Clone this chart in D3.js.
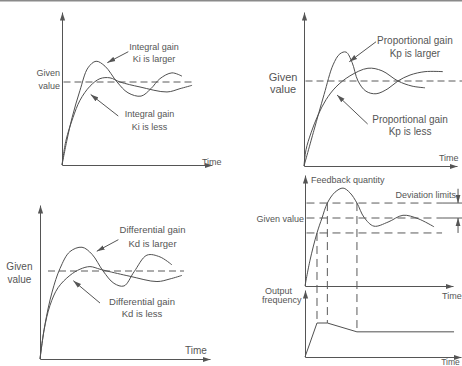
<!DOCTYPE html>
<html><head><meta charset="utf-8">
<script src="https://cdn.jsdelivr.net/npm/d3@7"></script>
<style>
html,body{margin:0;padding:0;background:#fff;}
text{font-family:"Liberation Sans",Arial,Helvetica,sans-serif;fill:#555;}
</style>
</head><body>
<svg id="c" width="462" height="366"></svg>
<script>
// ---------------- DATA (time in units 0..10, value relative to given value = 1) -------------
const givenValue = 1;
// Panel 1: integral gain
const kiLarger = [[0,0],[0.33,0.30],[0.67,0.57],[1.2,0.90],[1.73,1.17],[2.27,1.25],[2.87,1.19],[3.67,1.0],[4.4,0.87],[5.27,0.83],[5.93,0.92],[6.53,1.04],[7.33,1.11],[8.0,1.07]];
const kiLess   = [[0,0],[0.27,0.30],[0.73,0.57],[1.2,0.78],[1.87,0.95],[2.53,1.04],[3.2,1.05],[3.87,1.0],[5.2,0.94],[7.0,0.88],[7.87,0.92],[8.67,0.96]];
// Panel 2: proportional gain
const kpLarger = [[0,0],[0.65,0.42],[1.31,0.84],[1.90,1.19],[2.35,1.32],[2.75,1.34],[3.14,1.22],[3.53,1.0],[4.05,0.88],[4.71,0.85],[5.49,0.91],[6.14,1.0],[6.93,1.07],[7.91,1.11],[9.08,1.11]];
const kpLess   = [[0,0],[0.13,0.19],[0.46,0.39],[0.92,0.60],[1.44,0.78],[2.09,0.93],[3.0,1.06],[4.18,1.15],[5.1,1.12],[6.14,1.0],[7.06,0.94],[7.91,0.92]];
// Panel 3: differential gain
const kdLarger = [[0,0],[0.29,0.39],[0.71,0.76],[1.18,1.03],[1.76,1.22],[2.47,1.27],[3.06,1.19],[3.71,1.0],[4.35,0.86],[4.94,0.83],[5.53,0.99],[6.29,1.18],[7.06,1.16],[7.76,1.07]];
const kdLess   = [[0,0],[0.24,0.33],[0.59,0.61],[1.06,0.81],[1.76,0.95],[2.35,1.02],[2.94,1.05],[3.53,1.02],[3.94,1.0],[5.29,0.94],[6.88,0.88],[7.65,0.91],[8.35,0.95]];
// Panel 4: deviation limits / output frequency
const upperLimit = 1.22, lowerLimit = 0.78;
const eventTimes = [0.81, 1.51, 3.51];   // curve leaves lower limit, reaches upper limit, re-enters upper limit
const feedback = [[0,0],[0.34,0.38],[0.81,0.78],[1.15,1.0],[1.51,1.22],[2.03,1.38],[2.57,1.44],[3.04,1.37],[3.51,1.22],[3.99,1.01],[4.66,0.88],[5.61,0.94],[6.62,1.04],[7.64,0.99],[8.72,0.87]];
const outputFreq = [[0,0],[0.81,1],[1.51,1],[3.51,0.74],[10.07,0.74]];
const outputAtEvents = [1, 1, 0.74];
const feedbackAtEvents = [lowerLimit, upperLimit, upperLimit];

// text labels
const givenLines = ["Given","value"];
const kiLargerText = ["Integral gain","Ki is larger"];
const kiLessText = ["Integral gain","Ki is less"];
const kpLargerText = ["Proportional gain","Kp is larger"];
const kpLessText = ["Proportional gain","Kp is less"];
const kdLargerText = ["Differential gain","Kd is larger"];
const kdLessText = ["Differential gain","Kd is less"];
const timeText = "Time";

// ---------------- DRAWING ----------------
const LINE = "#505050", AXIS = "#555", DASH = "#5a5a5a";
const svg = d3.select("#c");
svg.append("rect").attr("x",0).attr("y",0).attr("width",462).attr("height",1.5).attr("fill","#8a8a8a");

const defs = svg.append("defs");
defs.append("marker").attr("id","axArrow").attr("viewBox","0 -3 8 6").attr("refX",8).attr("refY",0)
  .attr("markerWidth",8).attr("markerHeight",6).attr("markerUnits","userSpaceOnUse").attr("orient","auto")
  .append("path").attr("d","M0,-2.6L8,0L0,2.6Z").attr("fill",AXIS);
defs.append("marker").attr("id","noteArrow").attr("viewBox","0 -3 8 6").attr("refX",8).attr("refY",0)
  .attr("markerWidth",8).attr("markerHeight",6).attr("markerUnits","userSpaceOnUse").attr("orient","auto")
  .append("path").attr("d","M0,-2.4L8,0L0,2.4Z").attr("fill",AXIS);

function panel(cfg){
  const x = d3.scaleLinear().domain([0,10]).range([cfg.ox, cfg.xEnd]);
  const y = d3.scaleLinear().domain([0,1]).range([cfg.oy, cfg.gy]);
  const g = svg.append("g");
  const xe = cfg.xAxisEnd ?? cfg.xEnd;
  const xa = d3.scaleLinear().domain([0, x.invert(xe)]).range([cfg.ox, xe]);
  const ya = d3.scaleLinear().domain([0, y.invert(cfg.yTop)]).range([cfg.oy, cfg.yTop]);
  g.append("g").attr("transform",`translate(0,${cfg.oy})`).call(d3.axisBottom(xa).tickValues([]).tickSizeOuter(0));
  g.append("g").attr("transform",`translate(${cfg.ox},0)`).call(d3.axisLeft(ya).tickValues([]).tickSizeOuter(0));
  g.selectAll(".domain").attr("stroke",AXIS).attr("stroke-width",1).attr("marker-end","url(#axArrow)");
  return {g,x,y};
}
function curve(p, data, c){
  p.g.append("path").datum(data)
    .attr("d", d3.line().x(d=>p.x(d[0])).y(d=>p.y(d[1])).curve(c || d3.curveCatmullRom.alpha(0.5)))
    .attr("fill","none").attr("stroke",LINE).attr("stroke-width",1);
}
function hline(p, v, t0, t1, dash){
  p.g.append("line").attr("x1",p.x(t0)).attr("x2",p.x(t1)).attr("y1",p.y(v)).attr("y2",p.y(v))
    .attr("stroke",DASH).attr("stroke-width",1).attr("stroke-dasharray",dash||null);
}
function label(p, lines, t, v, size, lh, anchor){
  const tx = p.g.append("text").attr("x",p.x(t)).attr("y",p.y(v)).attr("font-size",size)
    .attr("text-anchor",anchor||"middle");
  lines.forEach((l,i)=>tx.append("tspan").attr("x",p.x(t)).attr("dy",i?lh:0).text(l));
}
function note(p, from, to){
  p.g.append("line").attr("x1",p.x(from[0])).attr("y1",p.y(from[1]))
    .attr("x2",p.x(to[0])).attr("y2",p.y(to[1]))
    .attr("stroke",AXIS).attr("stroke-width",1).attr("marker-end","url(#noteArrow)");
}

// Panel 1
const p1 = panel({ox:62, oy:165, xEnd:212, gy:82, yTop:12});
hline(p1, givenValue, 0.1, 8.87, "7,4");
curve(p1, kiLarger); curve(p1, kiLess);
label(p1, givenLines, -0.13, 1.072, 9, 12.5, "end");
label(p1, kiLargerText, 6.13, 1.38, 9, 12);
label(p1, kiLessText, 5.83, 0.578, 9, 12.5);
note(p1, [4.42,1.365],[3.02,1.233]);
note(p1, [3.75,0.59],[1.91,0.85]);
label(p1, [timeText], 9.33, 0.0, 9, 0, "start");

// Panel 2
const p2 = panel({ox:304, oy:166, xEnd:457, gy:81, yTop:12});
hline(p2, givenValue, 0.1, 10.33, "7,4");
curve(p2, kpLarger); curve(p2, kpLess);
label(p2, givenLines, -1.37, 1.0, 11, 12, "middle");
label(p2, kpLargerText, 7.25, 1.435, 10, 13);
label(p2, kpLessText, 6.93, 0.506, 10, 12);
note(p2, [4.71,1.462],[2.96,1.227]);
note(p2, [4.16,0.494],[2.16,0.835]);
label(p2, [timeText], 8.82, 0.06, 9, 0, "start");

// Panel 3
const p3 = panel({ox:40, oy:359, xEnd:210, gy:271, yTop:205});
hline(p3, givenValue, 0.47, 8.47, "7,4");
curve(p3, kdLarger); curve(p3, kdLess);
label(p3, givenLines, -1.21, 1.006, 10, 12.7, "middle");
label(p3, kdLargerText, 6.62, 1.432, 9.5, 14);
label(p3, kdLessText, 6.0, 0.614, 9.5, 12);
note(p3, [4.61,1.356],[3.34,1.224]);
note(p3, [3.53,0.636],[1.96,0.89]);
label(p3, [timeText], 8.53, 0.057, 10, 0, "start");

// Panel 4 (top: feedback quantity)
const p4 = panel({ox:305, oy:286, xEnd:453, gy:218, yTop:175});
hline(p4, upperLimit, 0.1, 9.32, "8,5");
hline(p4, givenValue, 0.1, 9.32, "8,5");
hline(p4, lowerLimit, 0.1, 9.26, "8,5");
hline(p4, upperLimit, 9.32, 10.61);
hline(p4, givenValue, 9.32, 10.61);
curve(p4, feedback);
note(p4, [10.34,1.43],[10.34,upperLimit]);
note(p4, [10.34,lowerLimit],[10.34,givenValue]);
label(p4, ["Feedback quantity"], 0.4, 1.515, 9, 0, "start");
label(p4, ["Deviation limits"], 10.2, 1.294, 9, 0, "end");
label(p4, ["Given value"], -0.07, 0.94, 9, 0, "end");
label(p4, [timeText], 9.26, -0.19, 9, 0, "start");

// Panel 4 (bottom: output frequency)
const p5 = panel({ox:305, oy:357, xEnd:453, gy:323, yTop:290, xAxisEnd:461});
curve(p5, outputFreq, d3.curveLinear);
label(p5, ["Output"], -2.7, 1.853, 9, 0, "start");
label(p5, ["frequency"], -2.91, 1.588, 9, 0, "start");
label(p5, [timeText], 9.2, -0.23, 8.5, 0, "start");

// vertical dashed links between feedback curve and output frequency
eventTimes.forEach((t,i)=>{
  svg.append("line").attr("x1",p4.x(t)).attr("x2",p5.x(t))
    .attr("y1",p4.y(feedbackAtEvents[i])).attr("y2",p5.y(outputAtEvents[i]))
    .attr("stroke",DASH).attr("stroke-width",1).attr("stroke-dasharray","8,5");
});
</script>
</body></html>
